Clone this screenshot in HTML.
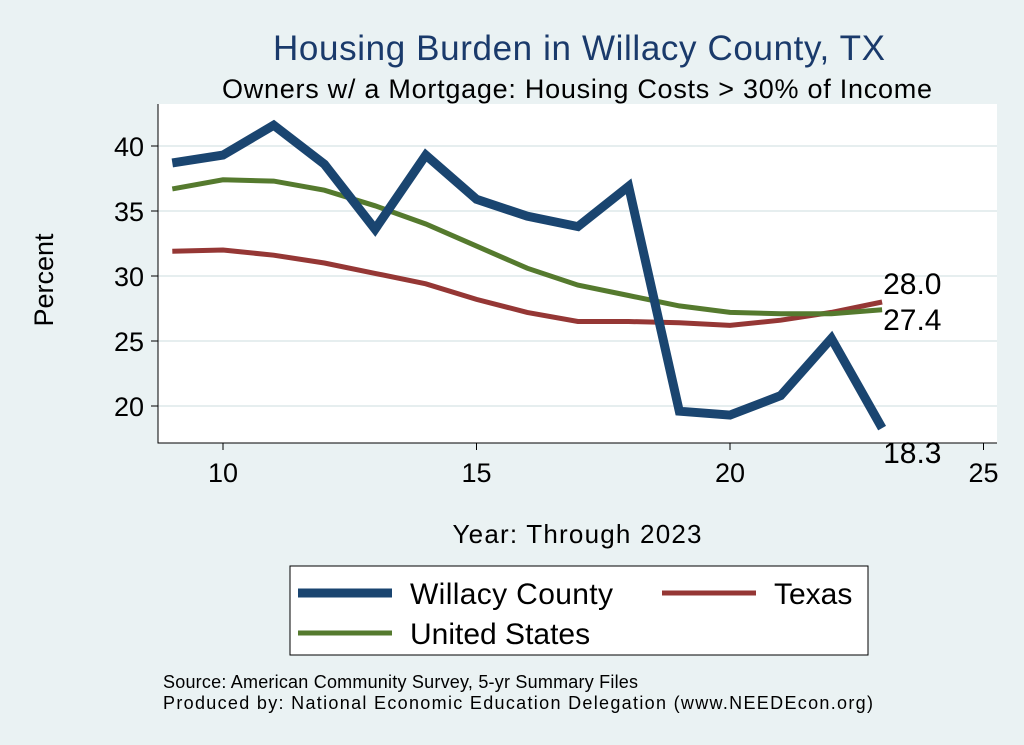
<!DOCTYPE html>
<html><head><meta charset="utf-8"><style>
body{margin:0;background:#eaf2f3;font-family:"Liberation Sans",sans-serif}
svg{display:block}
</style></head><body>
<svg width="1024" height="745">
<rect width="1024" height="745" fill="#eaf2f3"/>
<text x="579" y="60" font-size="35" fill="#1a3a6b" text-anchor="middle" textLength="612">Housing Burden in Willacy County, TX</text>
<text x="577" y="98" font-size="27" fill="#000" text-anchor="middle" textLength="710">Owners w/ a Mortgage: Housing Costs &gt; 30% of Income</text>
<rect x="158" y="104" width="839" height="339" fill="#fff"/>
<g id="grid"></g>
<g id="axes"></g>
<g id="series"></g>
<text transform="translate(53,280) rotate(-90)" font-size="27" text-anchor="middle">Percent</text>
<text x="577" y="543" font-size="26" text-anchor="middle" textLength="249">Year: Through 2023</text>
<g>
<rect x="290" y="566" width="578" height="89" fill="#fff" stroke="#000" stroke-width="1"/>
<line x1="298" y1="593" x2="392" y2="593" stroke="#1a4570" stroke-width="9"/>
<text x="410" y="604" font-size="30" textLength="203">Willacy County</text>
<line x1="662" y1="593" x2="756" y2="593" stroke="#953735" stroke-width="5"/>
<text x="774" y="604" font-size="30">Texas</text>
<line x1="298" y1="633" x2="392" y2="633" stroke="#557a2e" stroke-width="5"/>
<text x="410" y="644" font-size="30">United States</text>
</g>
<text x="163" y="688" font-size="18" textLength="475">Source: American Community Survey, 5-yr Summary Files</text>
<text x="163" y="709" font-size="18" textLength="710">Produced by: National Economic Education Delegation (www.NEEDEcon.org)</text>
</svg>
<script>
const years=[9,10,11,12,13,14,15,16,17,18,19,20,21,22,23];
const willacy=[38.7,39.3,41.6,38.6,33.6,39.3,35.9,34.6,33.8,36.9,19.6,19.3,20.8,25.2,18.3];
const texas=[31.9,32.0,31.6,31.0,30.2,29.4,28.2,27.2,26.5,26.5,26.4,26.2,26.6,27.2,28.0];
const us=[36.7,37.4,37.3,36.6,35.4,34.0,32.3,30.6,29.3,28.5,27.7,27.2,27.1,27.1,27.4];
const xTicks=[10,15,20,25];
const yTicks=[20,25,30,35,40];
const NS="http://www.w3.org/2000/svg";
const X=v=>223+(v-10)*50.7;
const Y=v=>146+(40-v)*13;
function mk(t,a,p){const e=document.createElementNS(NS,t);for(const k in a)e.setAttribute(k,a[k]);document.getElementById(p).appendChild(e);return e;}
yTicks.forEach(t=>{
 const g=mk('line',{x1:158,x2:997,y1:Y(t),y2:Y(t),stroke:'#e6eeef','stroke-width':2},'grid');
 
 
 const tk=mk('line',{x1:151,x2:158,y1:Y(t),y2:Y(t),stroke:'#000'},'axes');
 
 
 const l=mk('text',{x:144,y:Y(t)+10,'font-size':27,'text-anchor':'end'},'axes');l.textContent=t;
 
 
});
xTicks.forEach(t=>{
 const tk=mk('line',{x1:X(t),x2:X(t),y1:443,y2:450,stroke:'#000'},'axes');
 
 
 const l=mk('text',{x:X(t),y:482,'font-size':27,'text-anchor':'middle'},'axes');l.textContent=t;
 
 
});
const ax=mk('path',{d:'M158 104 V443 H997',fill:'none',stroke:'#000','stroke-width':1},'axes');


function line(vals,color,w,name){
 const p=mk('polyline',{points:vals.map((v,i)=>X(years[i])+','+Y(v)).join(' '),fill:'none',stroke:color,'stroke-width':w,'stroke-linejoin':'miter'},'series');
 
 
}
line(texas,'#953735',5,'texas-line');
line(us,'#557a2e',5,'us-line');
line(willacy,'#1a4570',9,'willacy-line');
function lab(v,dy,name){
 const l=mk('text',{x:X(23)+1,y:Y(v)+dy,'font-size':30},'series');l.textContent=v.toFixed(1);
 
 
}
lab(texas[14],-8,'texas-end-label');
lab(us[14],20,'us-end-label');
lab(willacy[14],35,'willacy-end-label');
</script>
</body></html>
